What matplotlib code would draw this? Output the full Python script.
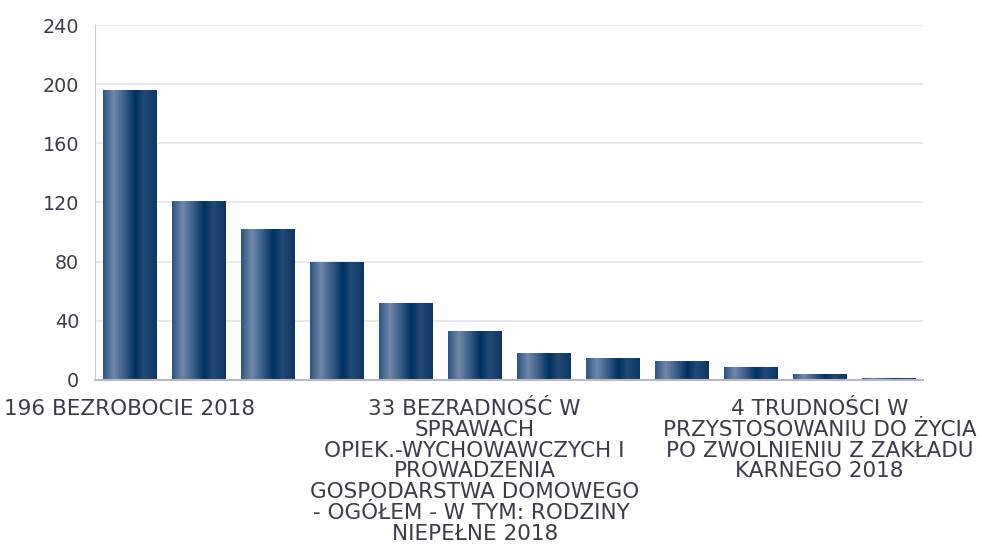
import matplotlib.pyplot as plt
import numpy as np
from matplotlib.colors import LinearSegmentedColormap

# categories (value prefix is part of the label, as in the source chart)
categories = [
    "196 BEZROBOCIE 2018",
    "121 UBÓSTWO 2018",
    "102 DŁUGOTRWAŁA LUB CIĘŻKA CHOROBA 2018",
    "80 NIEPEŁNOSPRAWNOŚĆ 2018",
    "52 POTRZEBA OCHRONY MACIERZYŃSTWA 2018",
    "33 BEZRADNOŚĆ W\nSPRAWACH\nOPIEK.-WYCHOWAWCZYCH I\nPROWADZENIA\nGOSPODARSTWA DOMOWEGO\n- OGÓŁEM - W TYM: RODZINY \nNIEPEŁNE 2018",
    "18 ALKOHOLIZM 2018",
    "15 BEZDOMNOŚĆ 2018",
    "13 PRZEMOC W RODZINIE 2018",
    "9 ZDARZENIE LOSOWE 2018",
    "4 TRUDNOŚCI W\nPRZYSTOSOWANIU DO ŻYCIA\nPO ZWOLNIENIU Z ZAKŁADU\nKARNEGO 2018",
    "1 NARKOMANIA 2018",
]
values = [196, 121, 102, 80, 52, 33, 18, 15, 13, 9, 4, 1]
y_ticks = [0, 40, 80, 120, 160, 200, 240]
label_step = 5  # only every 5th category label is shown

text_color = "#3b3b4c"

# horizontal gradient used inside every bar
bar_cmap = LinearSegmentedColormap.from_list("bar", [
    (0.0, "#2a5482"),
    (0.2, "#7088a8"),
    (0.4, "#3a5e88"),
    (0.6, "#00305f"),
    (0.77, "#234a75"),
    (1.0, "#0b3563"),
])
grad = np.linspace(0, 1, 256).reshape(1, -1)

fig = plt.figure(figsize=(9.82, 5.45), dpi=100)
ax = fig.add_axes([0.097, 0.303, 0.843, 0.651])

x = np.arange(len(values))
bars = ax.bar(x, values, width=0.77, facecolor="none", edgecolor="none", zorder=2)
for b in bars:
    x0, w, h = b.get_x(), b.get_width(), b.get_height()
    im = ax.imshow(grad, cmap=bar_cmap, aspect="auto", extent=(x0, x0 + w, 0, h),
                   interpolation="bilinear", zorder=2)
    im.set_clip_path(b)

ax.set_xlim(-0.5, len(values) - 0.5)
ax.set_ylim(0, 240)
ax.set_yticks(y_ticks)
ax.yaxis.grid(True, color="#e4e3ec", linewidth=1.2, zorder=0)
ax.set_axisbelow(True)

shown = list(range(0, len(categories), label_step))
ax.set_xticks(shown)
ax.set_xticklabels([categories[i] for i in shown], ha="center", va="top",
                   linespacing=1.06)

ax.tick_params(axis="y", length=0, pad=11.5, labelsize=13.8, labelcolor=text_color)
ax.tick_params(axis="x", length=0, pad=13.5, labelsize=15.5, labelcolor=text_color)

for s in ["top", "right"]:
    ax.spines[s].set_visible(False)
ax.spines["left"].set_color("#c8c8d8")
ax.spines["bottom"].set_color("#b8b8cc")
ax.spines["bottom"].set_linewidth(1.5)

fig.savefig("out.png", dpi=100)
